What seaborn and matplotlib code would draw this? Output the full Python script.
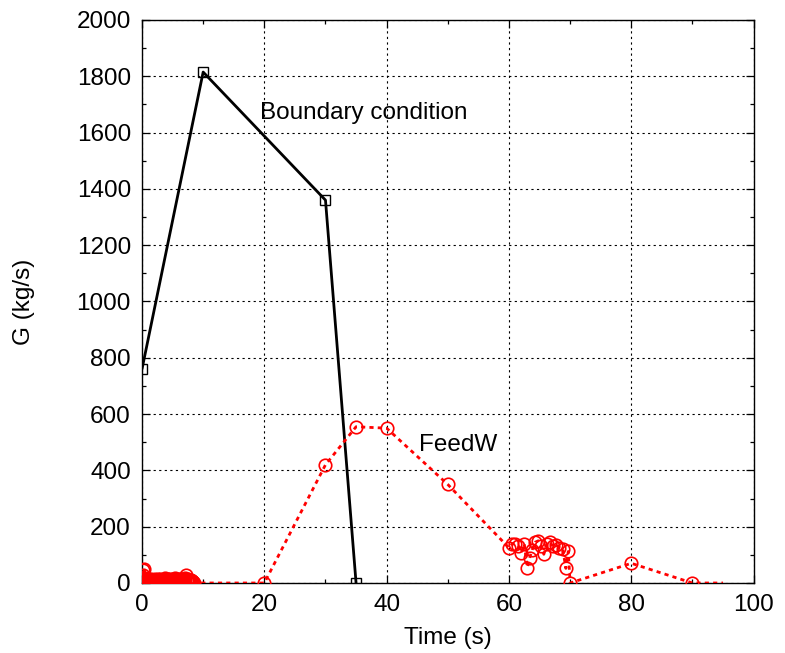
import matplotlib
matplotlib.use("Agg")
import matplotlib.pyplot as plt
import seaborn as sns
from matplotlib.ticker import MultipleLocator

# Boundary condition mass flow (kg/s)
bc_time = [0, 10, 30, 35]
bc_flow = [760, 1815, 1360, 0]

# Feedwater mass flow (kg/s): start-up transient sampled every 0.1 s
fw_time_start = [round(0.1 * i, 1) for i in range(86)]
fw_flow_start = [0, 28, 46, 12, 50, 18, 6, 10, 14, 4,
                 12, 8, 14, 3, 9, 13, 5, 11, 7, 2,
                 12, 9, 15, 4, 10, 6, 13, 8, 3, 11,
                 14, 6, 9, 12, 4, 10, 7, 13, 16, 9,
                 5, 12, 8, 14, 3, 10, 15, 6, 11, 4,
                 13, 9, 2, 12, 16, 7, 10, 5, 14, 8,
                 11, 3, 13, 9, 15, 6, 12, 4, 10, 14,
                 7, 18, 28, 12, 9, 5, 13, 8, 11, 4,
                 10, 6, 8, 3, 5, 0]

# Feedwater mass flow (kg/s): later part of the transient
fw_time_late = [20, 30, 35, 40, 50,
                60.0, 60.5, 61.0, 61.5, 62.0, 62.5, 63.0, 63.4, 63.8, 64.3, 64.8,
                65.2, 65.7, 66.2, 66.7, 67.2, 67.7, 68.2, 68.8, 69.3, 69.7, 70.0,
                80, 90, 95]
fw_flow_late = [0, 420, 555, 550, 350,
                125, 138, 140, 132, 108, 138, 55, 90, 118, 145, 150,
                130, 102, 140, 145, 130, 136, 125, 120, 52, 112, 0,
                70, 0, 0]

fw_time = fw_time_start + fw_time_late
fw_flow = fw_flow_start + fw_flow_late

x_ticks = [0, 20, 40, 60, 80, 100]
y_ticks = list(range(0, 2001, 200))

sns.set_style("ticks")
plt.rcParams["font.family"] = ["Liberation Sans", "DejaVu Sans"]
plt.rcParams["text.color"] = "black"
plt.rcParams["axes.labelcolor"] = "black"
plt.rcParams["xtick.color"] = "black"
plt.rcParams["ytick.color"] = "black"

FS = 17.5

fig = plt.figure(figsize=(7.85, 6.53), dpi=100)
ax = fig.add_axes([0.1809, 0.1072, 0.7791, 0.8622])

sns.lineplot(x=bc_time, y=bc_flow, ax=ax, sort=False, estimator=None,
             color="black", linewidth=2.0, marker="s", markersize=7,
             markerfacecolor="none", markeredgecolor="black",
             markeredgewidth=1.0, zorder=3)

sns.lineplot(x=fw_time, y=fw_flow, ax=ax, sort=False, estimator=None,
             color="red", linewidth=2.0, linestyle=(0, (1.5, 1.5)),
             marker="o", markersize=9, markerfacecolor="none",
             markeredgecolor="red", markeredgewidth=1.2,
             markevery=list(range(len(fw_time) - 1)), zorder=4)

ax.set_xlim(0, 100)
ax.set_ylim(0, 2000)
ax.set_xticks(x_ticks)
ax.set_yticks(y_ticks)
ax.xaxis.set_minor_locator(MultipleLocator(10))
ax.yaxis.set_minor_locator(MultipleLocator(100))

ax.grid(True, which="major", color="black", linestyle=(0, (2, 3)), linewidth=0.8)
ax.tick_params(which="both", direction="in", top=True, right=True,
               labelsize=FS, color="black", labelcolor="black", width=0.9)
ax.tick_params(which="major", length=6, pad=8)
ax.tick_params(which="minor", length=3)
for s in ax.spines.values():
    s.set_visible(True)
    s.set_color("black")
    s.set_linewidth(1.0)

ax.set_xlabel("Time (s)", fontsize=FS, labelpad=8)
ax.set_ylabel("G (kg/s)", fontsize=FS, labelpad=30)

ax.text(19.3, 1670, "Boundary condition", fontsize=FS, va="center", ha="left")
ax.text(45.3, 490, "FeedW", fontsize=FS, va="center", ha="left")

fig.savefig("out.png", dpi=100)
